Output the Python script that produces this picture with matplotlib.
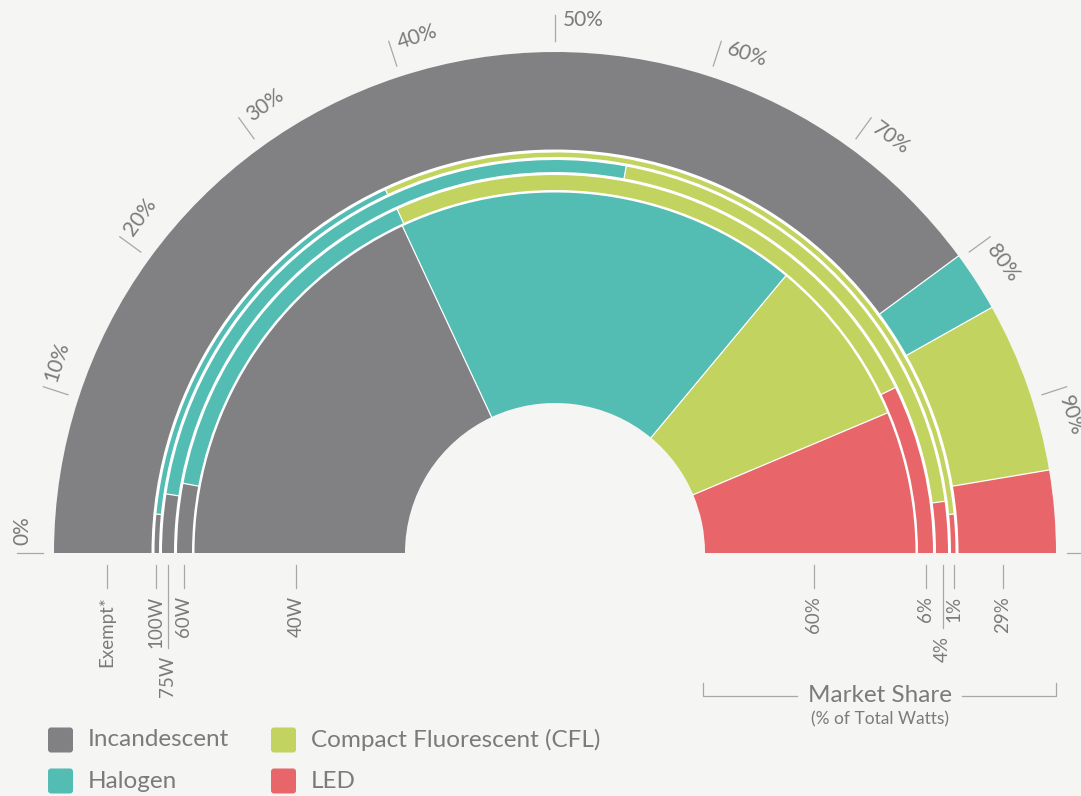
import matplotlib.pyplot as plt
import numpy as np
from matplotlib.patches import Wedge, FancyBboxPatch

# rings from inside out, with their share of total watts
rings = ['40W', '60W', '75W', '100W', 'Exempt*']
market_share = ['60%', '6%', '4%', '1%', '29%']

# technology split inside each ring (% of the ring)
incandescent = [36.1, 5.9, 4.8, 3.1, 79.8]
halogen = [36.0, 30.4, 51.0, 33.0, 3.9]
cfl = [15.2, 49.3, 40.0, 60.8, 11.0]
led = [12.7, 14.4, 4.2, 3.1, 5.3]

techs = ['Incandescent', 'Halogen', 'Compact Fluorescent (CFL)', 'LED']
colors = ['#818183', '#53bcb3', '#c2d45f', '#e8666a']

scale_ticks = [0, 10, 20, 30, 40, 50, 60, 70, 80, 90, 100]
scale_labels = ['0%', '10%', '20%', '30%', '40%', '50%', '60%', '70%', '80%', '90%', '']

bg = '#f5f5f3'
txt = '#7b7b7b'
line_c = '#a8a8a8'

plt.rcParams['font.family'] = ['Lato', 'DejaVu Sans']

fig = plt.figure(figsize=(10.81, 7.96), dpi=100, facecolor=bg)
ax = fig.add_axes([0, 0, 1, 1])
ax.set_xlim(0, 1081)
ax.set_ylim(796, 0)
ax.set_aspect('equal')
ax.axis('off')
ax.set_facecolor(bg)

cx, cy = 555, 553
radii = [(150, 360.5), (363, 378), (381, 393), (396, 400.5), (403.5, 501)]
label_r = [259, 371, 387.5, 399, 448]


def ang(p):
    # percent -> angle in data coords (y axis is inverted)
    return 180 + 1.8 * p


# white underlay so the gaps between rings read white
ax.add_patch(Wedge((cx, cy), 501, 180, 360, width=351, facecolor='white', lw=0))

split = np.array([incandescent, halogen, cfl, led]).T
for i, (r0, r1) in enumerate(radii):
    edges = np.concatenate([[0], np.cumsum(split[i])])
    for k in range(4):
        ax.add_patch(Wedge((cx, cy), r1, ang(edges[k]), ang(edges[k + 1]),
                           width=r1 - r0, facecolor=colors[k], lw=0))
    for e in edges[1:-1]:
        t = np.deg2rad(ang(e))
        ax.plot([cx + r0 * np.cos(t), cx + r1 * np.cos(t)],
                [cy + r0 * np.sin(t), cy + r1 * np.sin(t)], color='white', lw=0.9)

# percent scale around the top
for p, lab in zip(scale_ticks, scale_labels):
    t = np.deg2rad(ang(p))
    ax.plot([cx + 512 * np.cos(t), cx + 538 * np.cos(t)],
            [cy + 512 * np.sin(t), cy + 538 * np.sin(t)], color=line_c, lw=0.9)
    if lab:
        tx = cx + 533 * np.cos(t) - 8 * np.sin(t)
        ty = cy + 533 * np.sin(t) + 8 * np.cos(t)
        ax.text(tx, ty, lab, rotation=90 - 1.8 * p, rotation_mode='anchor',
                ha='left', va='center', fontsize=15, color=txt)

# ring labels (left) and market shares (right)
left_end = [588, 588, 648, 588, 588]
right_end = [588, 588, 628, 588, 588]
for i in range(len(rings)):
    xl = cx - label_r[i]
    xr = cx + label_r[i]
    ax.plot([xl, xl], [565, left_end[i]], color=line_c, lw=0.9)
    ax.plot([xr, xr], [565, right_end[i]], color=line_c, lw=0.9)
    ax.text(xl, left_end[i] + 8, rings[i], rotation=90, ha='center', va='top',
            fontsize=13.5, color=txt)
    ax.text(xr, right_end[i] + 8, market_share[i], rotation=90, ha='center', va='top',
            fontsize=13.5, color=txt)

# market share bracket
ax.plot([703, 703, 797], [683, 696, 696], color=line_c, lw=0.9)
ax.plot([962, 1056, 1056], [696, 696, 683], color=line_c, lw=0.9)
ax.text(880, 696, 'Market Share', ha='center', va='center', fontsize=17.5, color=txt)
ax.text(880, 719, '(% of Total Watts)', ha='center', va='center', fontsize=12.5, color=txt)

# legend
legend_pos = [(48, 740), (48, 781), (271, 740), (271, 781)]
for (lx, ly), name, c in zip(legend_pos, techs, colors):
    ax.add_patch(FancyBboxPatch((lx + 2, ly - 10.5), 21, 21,
                                boxstyle='round,pad=2,rounding_size=3',
                                facecolor=c, lw=0))
    ax.text(lx + 40, ly, name, ha='left', va='center', fontsize=17.5, color=txt)

fig.savefig('out.png', dpi=100, facecolor=bg)
